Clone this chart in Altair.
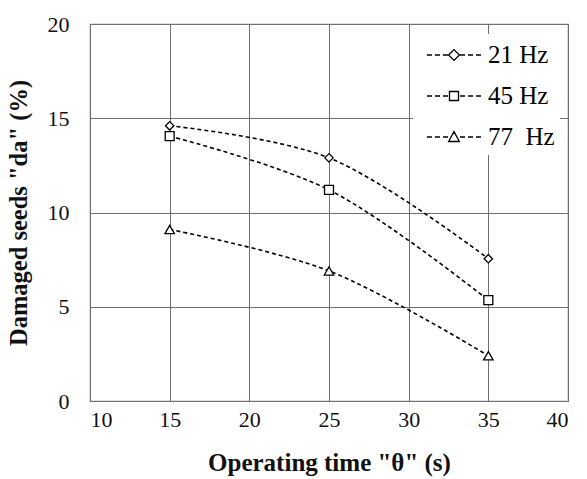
import altair as alt
import pandas as pd

times = [15, 25, 35]
series_names = ["21 Hz", "45 Hz", "77\u00a0 Hz"]
v21 = [14.6, 12.9, 7.55]
v45 = [14.05, 11.2, 5.35]
v77 = [9.1, 6.9, 2.4]
x_ticks = [10, 15, 20, 25, 30, 35, 40]
y_ticks = [0, 5, 10, 15, 20]

rows = []
for name, vals in zip(series_names, [v21, v45, v77]):
    for t, v in zip(times, vals):
        rows.append({"time": t, "damage": v, "series": name})
df = pd.DataFrame(rows)

FONT = "Liberation Serif"

# legend symbols: dashed line with marker, custom paths (unit = 15 px)
def dashes(off):
    segs = [(-1.8, -1.467), (-1.267, -0.933), (-0.733, -0.4),
            (0.4, 0.733), (0.933, 1.267), (1.467, 1.8)]
    return " ".join(f"M{a+off:.3f},0 L{b+off:.3f},0" for a, b in segs)

OFF = 1.333
diamond_leg = dashes(OFF) + f" M{OFF:.3f},-0.36 L{OFF+0.36:.3f},0 L{OFF:.3f},0.36 L{OFF-0.36:.3f},0 Z"
square_leg = dashes(OFF) + f" M{OFF-0.3:.3f},-0.3 L{OFF+0.3:.3f},-0.3 L{OFF+0.3:.3f},0.3 L{OFF-0.3:.3f},0.3 Z"
tri_leg = dashes(OFF) + f" M{OFF:.3f},-0.36 L{OFF+0.36:.3f},0.3 L{OFF-0.36:.3f},0.3 Z"

xenc = alt.X("time:Q", scale=alt.Scale(domain=[10, 40], nice=False),
             axis=alt.Axis(values=x_ticks, title='Operating time "\u03b8" (s)'))
yenc = alt.Y("damage:Q", scale=alt.Scale(domain=[0, 20], nice=False),
             axis=alt.Axis(values=y_ticks, title='Damaged seeds "da" (%)'))

base = alt.Chart(df)

lines = base.mark_line(color="black", strokeDash=[4, 3], strokeWidth=1.6,
                       interpolate="catmull-rom").encode(
    x=xenc, y=yenc, detail="series:N")

points = base.mark_point(filled=True, fill="white", stroke="black",
                         strokeWidth=1.3, opacity=1).encode(
    x=xenc, y=yenc,
    shape=alt.Shape("series:N",
                    scale=alt.Scale(domain=series_names,
                                    range=["diamond", "square", "triangle-up"]),
                    legend=None),
    size=alt.Size("series:N",
                  scale=alt.Scale(domain=series_names, range=[70, 90, 80]),
                  legend=None))

legend_layer = base.mark_point(filled=False, color="black",
                               strokeWidth=1.3, opacity=1, size=900).encode(
    x=xenc, y=yenc,
    shape=alt.Shape("series2:N",
                    scale=alt.Scale(domain=series_names,
                                    range=[diamond_leg, square_leg, tri_leg]),
                    legend=alt.Legend(
                        title=None, orient="none", legendX=323, legendY=10,
                        fillColor="white", padding=5, rowPadding=12,
                        symbolSize=900, symbolOpacity=1,
                        symbolStrokeColor="black",
                        symbolStrokeWidth=1.3, labelOffset=38,
                        labelFont=FONT, labelFontSize=25, labelColor="black",
                        labelLimit=200))
).transform_calculate(series2="datum.series").transform_filter("false")

chart = alt.layer(lines, points, legend_layer).resolve_scale(
    shape="independent", size="independent"
).properties(
    width=478, height=377,
    autosize=alt.AutoSizeParams(type="none"),
    padding={"left": 90, "top": 24, "right": 19, "bottom": 78},
    background="white",
).configure_view(
    stroke="#808080", strokeWidth=1.2
).configure_axis(
    grid=True, gridColor="#707070", gridWidth=1, gridOpacity=1,
    domain=False, ticks=False,
    labelFont=FONT, labelFontSize=22, labelColor="#111",
    titleFont=FONT, titleFontWeight="bold", titleColor="#111",
).configure_axisX(
    labelPadding=8, titlePadding=20, titleFontSize=25
).configure_axisY(
    labelPadding=21, titlePadding=16, titleFontSize=24.5
)

chart.save("out.html", embed_options={"renderer": "svg", "actions": False})
